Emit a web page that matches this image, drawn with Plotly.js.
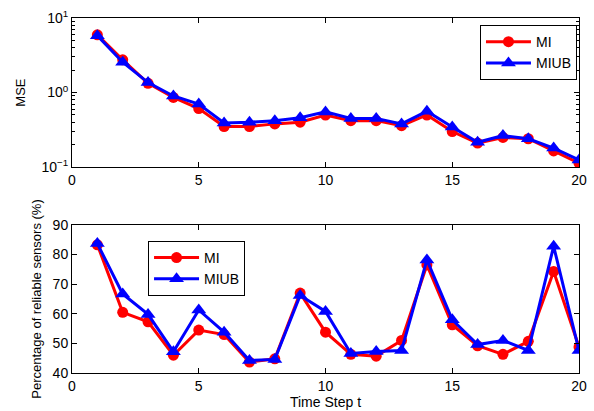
<!DOCTYPE html>
<html><head><meta charset="utf-8">
<script src="https://cdn.plot.ly/plotly-3.0.1.min.js"></script>
<style>html,body{margin:0;padding:0;background:#fff}#c{width:594px;height:411px}</style>
</head><body><div id="c"></div>
<script>
const steps = [1,2,3,4,5,6,7,8,9,10,11,12,13,14,15,16,17,18,19,20];
const mseMI   = [5.95,2.75,1.33,0.86,0.61,0.35,0.35,0.38,0.40,0.50,0.42,0.42,0.36,0.50,0.30,0.21,0.25,0.24,0.165,0.113];
const mseMIUB = [5.8,2.55,1.36,0.90,0.70,0.39,0.40,0.42,0.46,0.55,0.45,0.45,0.38,0.56,0.345,0.215,0.265,0.24,0.18,0.125];
const pctMI   = [83.3,60.5,57.3,46.0,54.5,53.0,43.7,44.8,67.0,53.8,46.3,45.7,51.0,76.5,56.3,49.2,46.3,50.7,74.3,48.8];
const pctMIUB = [83.7,66.7,59.8,47.2,61.3,53.8,44.2,44.6,66.2,60.8,46.6,47.3,47.6,78.2,58.0,49.6,51.0,47.6,82.8,47.6];
const logTickVals = [0.1,1,10];
const logTickText = ['10<sup>−1</sup>','10<sup>0</sup>','10<sup>1</sup>'];
const logMinor = [0.2,0.3,0.4,0.5,0.6,0.7,0.8,0.9,2,3,4,5,6,7,8,9];
const xTicks = [0,5,10,15,20];
const pctTicks = [40,50,60,70,80,90];

const F = 'Liberation Sans, Arial, Helvetica, sans-serif';
const red = '#ff0000', blue = '#0000ff';
const traces = [
  {x: steps, y: mseMI, name: 'MI', mode: 'lines+markers', xaxis: 'x', yaxis: 'y', legend: 'legend',
   line: {color: red, width: 3}, marker: {symbol: 'circle', size: 11, color: red}},
  {x: steps, y: mseMIUB, name: 'MIUB', mode: 'lines+markers', xaxis: 'x', yaxis: 'y', legend: 'legend',
   line: {color: blue, width: 3}, marker: {symbol: 'triangle-up', size: 13, color: blue}},
  {x: steps, y: pctMI, name: 'MI', mode: 'lines+markers', xaxis: 'x2', yaxis: 'y2', legend: 'legend2',
   line: {color: red, width: 3}, marker: {symbol: 'circle', size: 11, color: red}},
  {x: steps, y: pctMIUB, name: 'MIUB', mode: 'lines+markers', xaxis: 'x2', yaxis: 'y2', legend: 'legend2',
   line: {color: blue, width: 3}, marker: {symbol: 'triangle-up', size: 13, color: blue}}
];
const axBase = {showline: true, linecolor: '#000', linewidth: 1, mirror: 'ticks', ticks: 'inside',
  ticklen: 5, tickcolor: '#000', showgrid: false, zeroline: false, tickfont: {family: F, size: 14, color: '#000'}};
const legBase = {bgcolor: '#fff', bordercolor: '#000', borderwidth: 1, font: {family: F, size: 14, color: '#000'},
  tracegroupgap: 0, itemwidth: 45};
const layout = {
  width: 594, height: 411, paper_bgcolor: '#fff', plot_bgcolor: '#fff',
  margin: {l: 72, r: 15, t: 18, b: 38},
  showlegend: true,
  xaxis: Object.assign({}, axBase, {domain: [0,1], anchor: 'y', range: [0,20], tickvals: xTicks}),
  yaxis: Object.assign({}, axBase, {domain: [0.58,1], anchor: 'x', type: 'log', range: [-1,1],
    tickvals: logTickVals, ticktext: logTickText,
    minor: {ticks: 'inside', ticklen: 3, tickcolor: '#000', tickmode: 'array', tickvals: logMinor, showgrid: false},
    title: {text: 'MSE', font: {family: F, size: 13, color: '#000'}, standoff: 12}}),
  xaxis2: Object.assign({}, axBase, {domain: [0,1], anchor: 'y2', range: [0,20], tickvals: xTicks,
    title: {text: 'Time Step t', font: {family: F, size: 14, color: '#000'}, standoff: 2}}),
  yaxis2: Object.assign({}, axBase, {domain: [0,0.417], anchor: 'x2', range: [40,90], tickvals: pctTicks,
    title: {text: 'Percentage of reliable sensors (%)', font: {family: F, size: 13, color: '#000'}, standoff: 8}}),
  legend: Object.assign({}, legBase, {x: 0.996, xanchor: 'right', y: 0.98, yanchor: 'top'}),
  legend2: Object.assign({}, legBase, {x: 0.15, xanchor: 'left', y: 0.372, yanchor: 'top'})
};
Plotly.newPlot('c', traces, layout, {displayModeBar: false, staticPlot: true});
</script></body></html>
